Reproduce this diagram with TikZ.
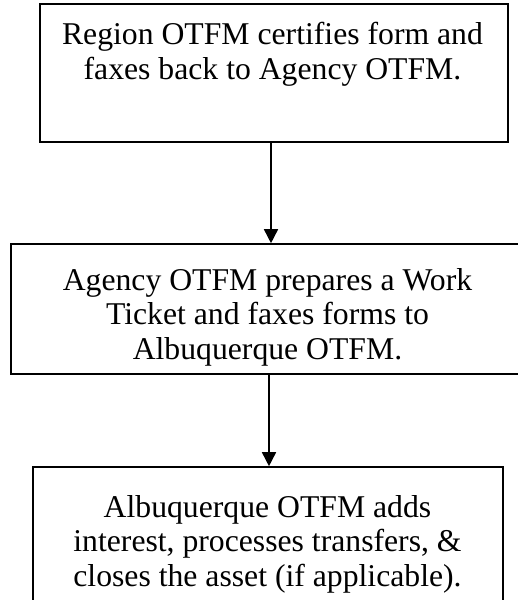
\documentclass[tikz,border=0pt]{standalone}
\usepackage{fontspec}
\setmainfont{Liberation Serif}
\usetikzlibrary{arrows.meta}
\begin{document}
\begin{tikzpicture}[x=1pt,y=-1pt,
  box/.style={draw=black, line width=1.6pt, rectangle, inner sep=0pt},
  txt/.style={align=center, inner sep=0pt, anchor=north, font=\fontsize{31.7}{34.5}\selectfont},
  flow/.style={line width=1.6pt, -{Triangle[width=14pt,length=14pt]}}]
\useasboundingbox (0,0) rectangle (517,600);
\node[box, minimum width=468pt, minimum height=138pt] (b1) at (274,73) {};
\node[box, minimum width=519pt, minimum height=130pt] (b2) at (270.5,309) {};
\node[box, minimum width=470pt, minimum height=146pt] (b3) at (268,540) {};
\node[txt] (t1) at (272.5,22) {Region OTFM certifies form and\\faxes back to Agency OTFM.};
\node[txt] (t2) at (267.5,268) {Agency OTFM prepares a Work\\Ticket and faxes forms to\\Albuquerque OTFM.};
\node[txt] (t3) at (267.5,495) {Albuquerque OTFM adds\\interest, processes transfers, \&\\closes the asset (if applicable).};
\draw[flow] (b1.south -| 271,0) -- (b2.north -| 271,0);
\draw[flow] (b2.south -| 269,0) -- (b3.north -| 269,0);
\end{tikzpicture}
\end{document}
